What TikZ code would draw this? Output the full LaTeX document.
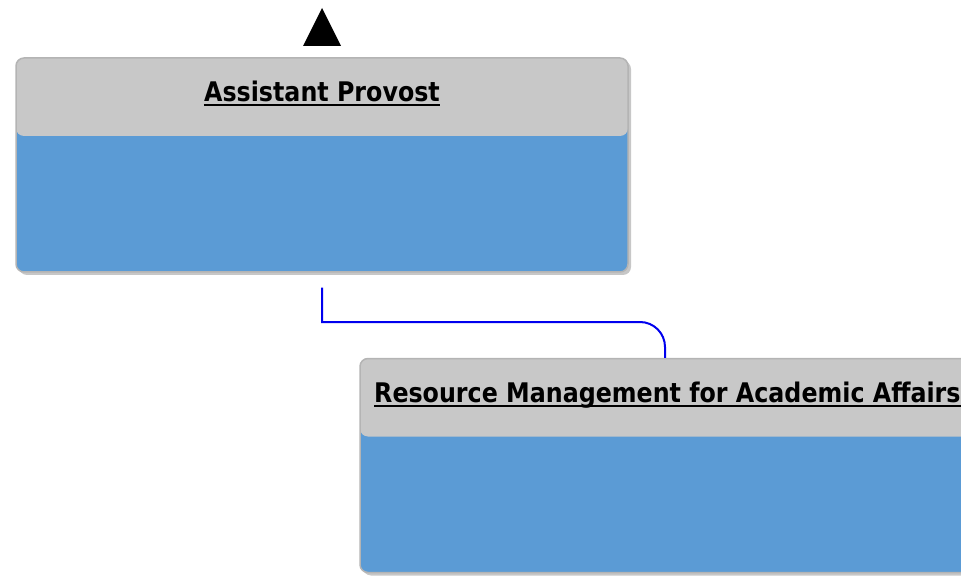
\documentclass[tikz,border=0pt]{standalone}
\usepackage{fontspec}
\setmainfont{DejaVu Sans}
\usetikzlibrary{shadows}
\definecolor{hdrgrey}{HTML}{C8C8C8}
\definecolor{bodyblue}{HTML}{5B9BD5}
\definecolor{edgegrey}{HTML}{B4B4B4}
\definecolor{connblue}{HTML}{0000EE}
\tikzset{
  orgbox/.style={draw=edgegrey, line width=1.5pt, fill=bodyblue, rounded corners=8pt,
    inner sep=0pt, minimum width=#1, minimum height=214pt,
    drop shadow={shadow xshift=3pt, shadow yshift=-3pt, fill=black, opacity=0.22},
    path picture={\fill[hdrgrey] (path picture bounding box.north west) rectangle ([yshift=-78pt]path picture bounding box.north east);}},
  titletext/.style={inner sep=0pt, font=\fontsize{27}{31}\selectfont\bfseries},
  uline/.style={line width=2pt, black},
  conn/.style={draw=connblue, line width=2pt},
}
\newcommand{\squeezetext}[1]{\scalebox{0.88}[1]{#1}}
\begin{document}
\begin{tikzpicture}[x=1pt, y=-1pt]
\useasboundingbox (0,0) rectangle (961,577);
\clip (0,0) rectangle (961,577);
% top arrow marker
\coordinate (apex) at (322,8);
\fill[black] (apex) -- (341,46) -- (303,46) -- cycle;
% boxes
\node[orgbox=612pt] (b1) at (322,165) {};
\node[orgbox=610pt] (b2) at (665,465.5) {};
% titles
\node[titletext, anchor=base] (t1) at (322,102) {\squeezetext{Assistant Provost}};
\draw[uline] ([yshift=-3.5pt]t1.base west) -- ([yshift=-3.5pt]t1.base east);
\node[titletext, anchor=base west] (t2) at (374,402) {\squeezetext{Resource Management for Academic Affairs}};
\draw[uline] ([yshift=-3.5pt]t2.base west) -- ([yshift=-3.5pt]t2.base east);
% connector
\coordinate (c0) at ([yshift=-15pt]b1.south);
\draw[conn] (c0) -- (c0 |- 0,322) -- (640,322) arc[start angle=90, end angle=0, radius=25pt] -- (b2.north);
\end{tikzpicture}
\end{document}
